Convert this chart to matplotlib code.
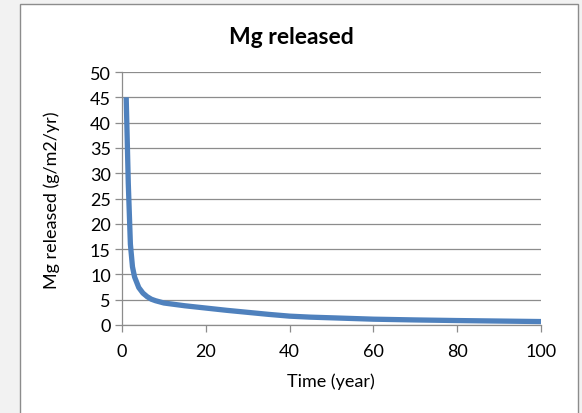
import matplotlib
matplotlib.use("Agg")
import matplotlib.pyplot as plt
from matplotlib.patches import Rectangle

years = [1, 1.5, 2, 2.5, 3, 4, 5, 6, 7, 8, 10, 15, 20, 25, 30, 35, 40, 45, 50, 60, 70, 80, 90, 100]
mg_released = [45, 28, 16, 11.5, 9.5, 7.4, 6.3, 5.6, 5.1, 4.8, 4.35, 3.8, 3.35, 2.9, 2.5, 2.1, 1.75, 1.55, 1.42, 1.15, 1.0, 0.88, 0.78, 0.68]

title = "Mg released"
xlabel = "Time (year)"
ylabel = "Mg released (g/m2/yr)"
xticks = [0, 20, 40, 60, 80, 100]
yticks = [0, 5, 10, 15, 20, 25, 30, 35, 40, 45, 50]

plt.rcParams['font.family'] = ['Lato', 'DejaVu Sans']

fig = plt.figure(figsize=(5.82, 4.14), dpi=100)
fig.patch.set_facecolor('#f2f2f2')
fig.patches.append(Rectangle((20/582, -0.05), 558/582, 1.05 - 5/414, transform=fig.transFigure,
                             facecolor='white', edgecolor='#8c8c8c', linewidth=1.0, zorder=-5))

ax = fig.add_axes([122/582, 1 - 326/414, 419/582, 253/414])
ax.set_zorder(2)
ax.set_facecolor('white')
ax.plot(years, mg_released, color='#4F81BD', linewidth=3.8, solid_capstyle='butt', solid_joinstyle='round', zorder=3)

ax.set_xlim(0, 100)
ax.set_ylim(0, 50)
ax.set_xticks(xticks)
ax.set_yticks(yticks)
ax.grid(axis='y', color='#8c8c8c', linewidth=0.9)
ax.set_axisbelow(True)
for s in ['top', 'right']:
    ax.spines[s].set_visible(False)
for s in ['left', 'bottom']:
    ax.spines[s].set_color('#8c8c8c')
    ax.spines[s].set_linewidth(0.9)
ax.tick_params(direction='out', length=5, width=0.9, color='#8c8c8c', labelsize=13)
ax.tick_params(axis='y', pad=3)
ax.tick_params(axis='x', pad=8)

fig.text(0.5, 1 - 37/414, title, ha='center', va='center', fontsize=16.5, fontweight='bold')
fig.text(52/582, 1 - 200/414, ylabel, ha='center', va='center', rotation=90, fontsize=13)
fig.text(331/582, 1 - 382/414, xlabel, ha='center', va='center', fontsize=13)

fig.savefig('out.png', dpi=100, facecolor=fig.get_facecolor())
